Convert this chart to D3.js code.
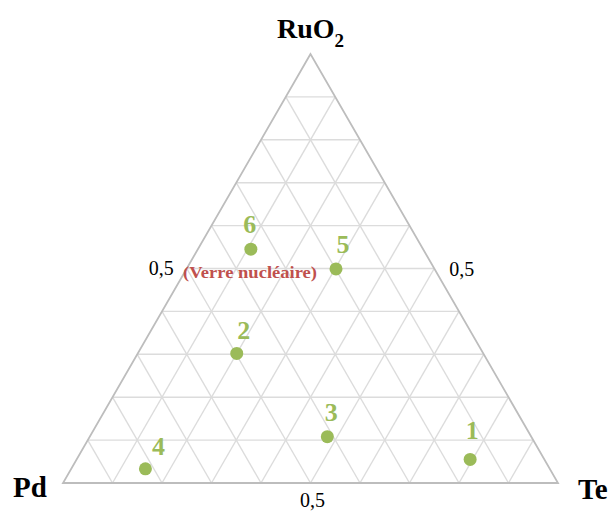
<!DOCTYPE html>
<html>
<head>
<meta charset="utf-8">
<script src="https://cdn.jsdelivr.net/npm/d3@7"></script>
<style>
  html, body { margin: 0; padding: 0; background: #fff; }
  svg { display: block; }
  text { font-family: "Liberation Serif", "Times New Roman", serif; }
</style>
</head>
<body>
<svg id="chart" width="611" height="512"></svg>
<script>
// ---- data ----
const pointLabels = ["1", "2", "3", "4", "5", "6"];
const ruo2 = [0.055, 0.302, 0.108, 0.033, 0.499, 0.545];
const te   = [0.795, 0.200, 0.480, 0.150, 0.302, 0.107];
const pd   = [0.150, 0.498, 0.412, 0.817, 0.199, 0.348];
const vertexLabels = ["RuO", "Pd", "Te"];
const tickLabel = "0,5";
const noteText = "(Verre nucléaire)";
const gridSteps = d3.range(1, 10).map(k => k / 10);

(function () {
// ---- layout ----
const svg = d3.select("#chart");
const x = d3.scaleLinear().domain([0, 1]).range([63, 558]);
const y = d3.scaleLinear().domain([0, 1]).range([483, 54]);
// ternary (a = RuO2, b = Te) -> cartesian
const px = (a, b) => x(b + a / 2);
const py = (a) => y(a);

const green = "#9bbb59";
const red = "#c0504d";

// grid
const g = svg.append("g").attr("stroke", "#dcdcdc").attr("stroke-width", 1.4).attr("fill", "none");
gridSteps.forEach(v => {
  g.append("line").attr("x1", px(v, 0)).attr("y1", py(v)).attr("x2", px(v, 1 - v)).attr("y2", py(v));
  g.append("line").attr("x1", px(0, v)).attr("y1", py(0)).attr("x2", px(1 - v, v)).attr("y2", py(1 - v));
  g.append("line").attr("x1", px(0, 1 - v)).attr("y1", py(0)).attr("x2", px(1 - v, 0)).attr("y2", py(1 - v));
});

// outer triangle
svg.append("path")
  .attr("d", d3.line()([[px(1, 0), py(1)], [px(0, 0), py(0)], [px(0, 1), py(0)]]) + "Z")
  .attr("fill", "none").attr("stroke", "#bdbdbd").attr("stroke-width", 1.8);

// vertex labels
const topLabel = svg.append("text").attr("x", 277).attr("y", 38)
  .attr("font-size", 28).attr("font-weight", "bold").attr("fill", "#000");
topLabel.append("tspan").text(vertexLabels[0]);
topLabel.append("tspan").attr("font-size", 19).attr("dy", 9).text("2");

svg.append("text").attr("x", 13).attr("y", 497).attr("font-size", 29)
  .attr("font-weight", "bold").attr("fill", "#000").text(vertexLabels[1]);
svg.append("text").attr("x", 578).attr("y", 499).attr("font-size", 29)
  .attr("font-weight", "bold").attr("fill", "#000").text(vertexLabels[2]);

// 0,5 tick labels
svg.append("text").attr("x", px(0.5, 0) - 13).attr("y", 275).attr("text-anchor", "end")
  .attr("font-size", 20).attr("fill", "#000").text(tickLabel);
svg.append("text").attr("x", px(0.5, 0.5) + 15).attr("y", 276).attr("text-anchor", "start")
  .attr("font-size", 20).attr("fill", "#000").text(tickLabel);
svg.append("text").attr("x", px(0, 0.5) + 2).attr("y", 507).attr("text-anchor", "middle")
  .attr("font-size", 20).attr("fill", "#000").text(tickLabel);

// note
svg.append("text").attr("x", 183).attr("y", 278)
  .attr("font-size", 17).attr("font-weight", "bold").attr("fill", red)
  .attr("textLength", 134).attr("lengthAdjust", "spacingAndGlyphs")
  .text(noteText);

// points
const pts = pointLabels.map((l, i) => ({ label: l, a: ruo2[i], b: te[i], c: pd[i] }));
const labelOffset = { "1": [2, -20], "2": [7, -14], "3": [4, -16], "4": [13, -14], "5": [7, -16], "6": [-1, -16] };

svg.append("g").selectAll("circle").data(pts).join("circle")
  .attr("cx", d => px(d.a, d.b)).attr("cy", d => py(d.a))
  .attr("r", 6.5).attr("fill", green);

svg.append("g").selectAll("text").data(pts).join("text")
  .attr("x", d => px(d.a, d.b) + labelOffset[d.label][0])
  .attr("y", d => py(d.a) + labelOffset[d.label][1])
  .attr("text-anchor", "middle")
  .attr("font-size", 26).attr("font-weight", "bold").attr("fill", green)
  .text(d => d.label);
})();
</script>
</body>
</html>
